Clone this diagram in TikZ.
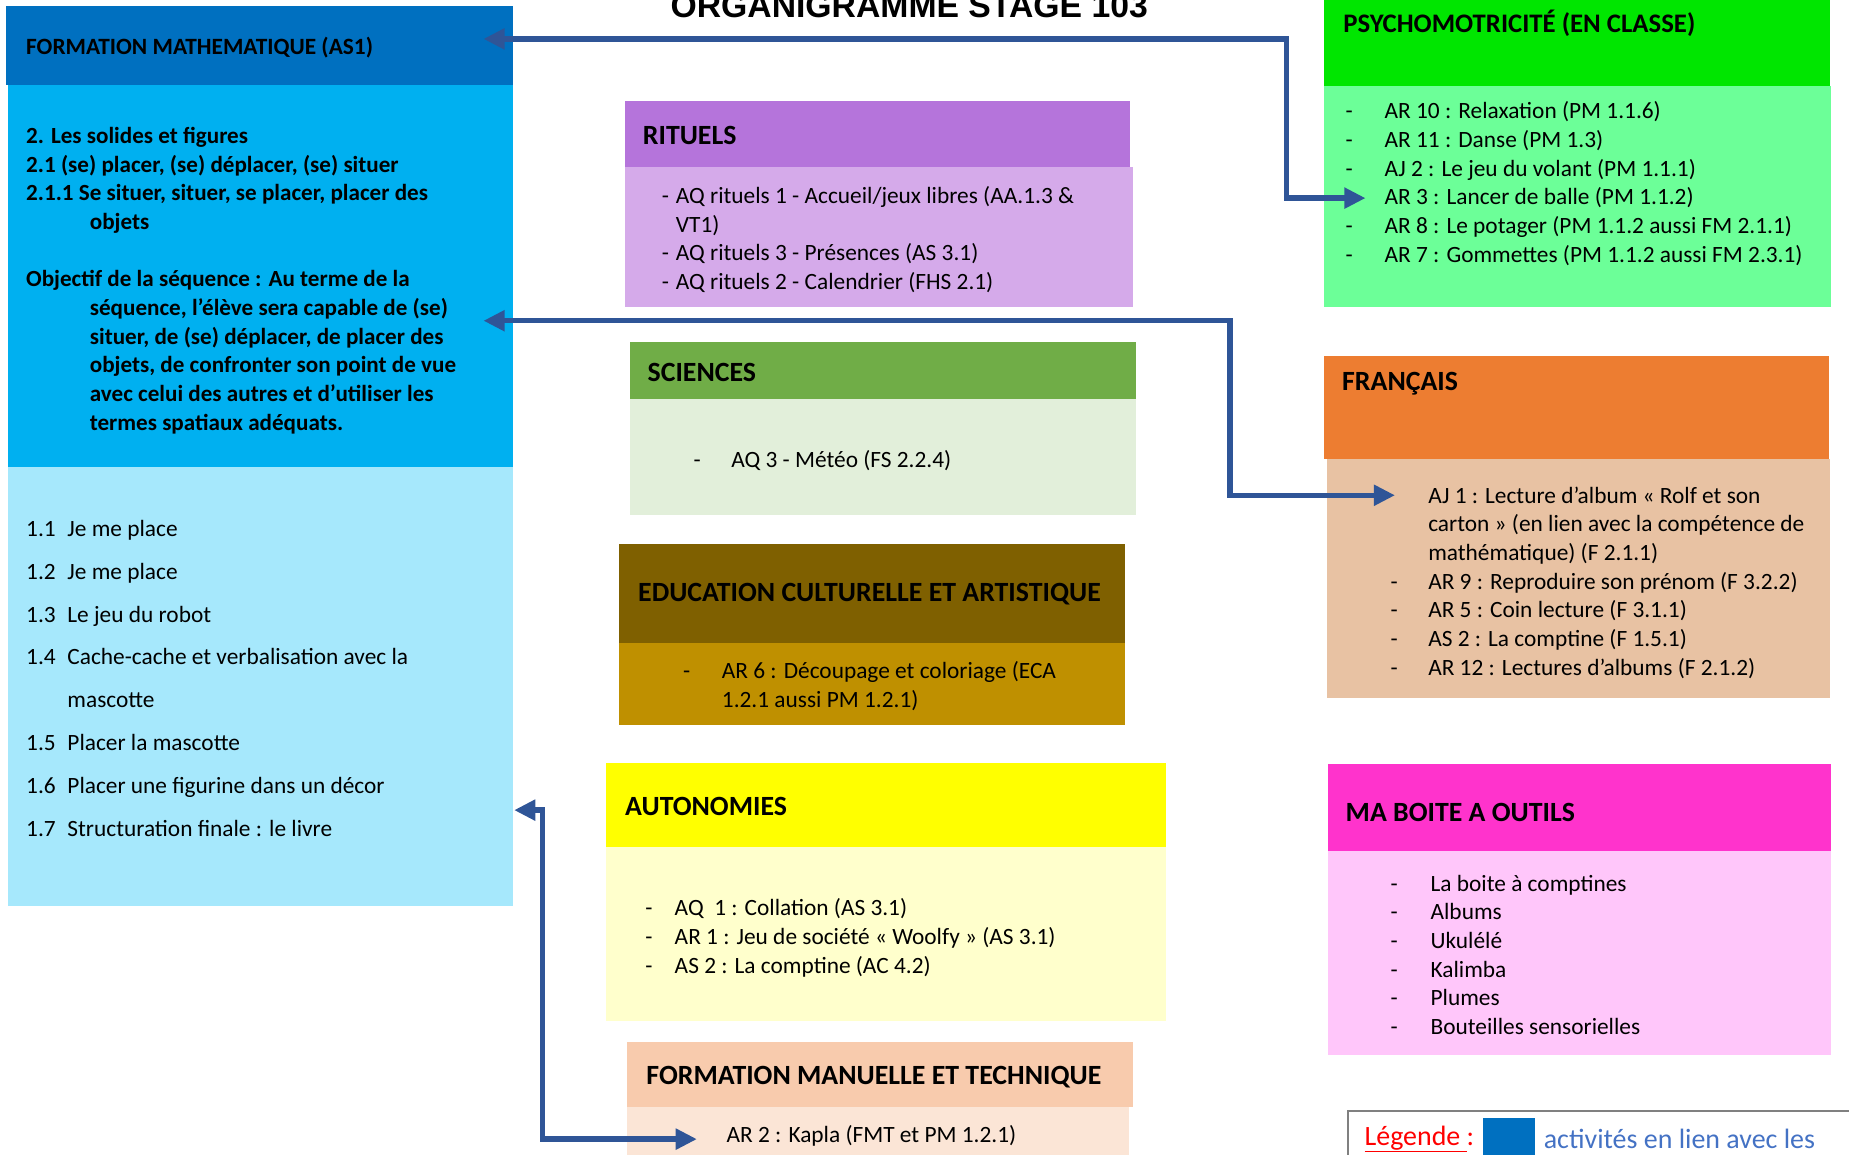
\documentclass[tikz,border=0pt]{standalone}
\usepackage{fontspec}
\setmainfont{Carlito}
\newfontfamily\titrefont{Liberation Sans}
\usetikzlibrary{arrows.meta,calc}
\definecolor{mathH}{HTML}{0070C0}
\definecolor{mathM}{HTML}{00B0F0}
\definecolor{mathL}{HTML}{A6E8FC}
\definecolor{ritH}{HTML}{B574DB}
\definecolor{ritB}{HTML}{D5AAEA}
\definecolor{sciH}{HTML}{70AD47}
\definecolor{sciB}{HTML}{E2EFDA}
\definecolor{ecaH}{HTML}{7F6000}
\definecolor{ecaB}{HTML}{BF9000}
\definecolor{autH}{HTML}{FFFF00}
\definecolor{autB}{HTML}{FFFFCC}
\definecolor{fmtH}{HTML}{F8CBAD}
\definecolor{fmtB}{HTML}{FBE5D6}
\definecolor{psyH}{HTML}{00E600}
\definecolor{psyB}{HTML}{6CFF98}
\definecolor{frH}{HTML}{ED7D31}
\definecolor{frB}{HTML}{E8C2A3}
\definecolor{outH}{HTML}{FF33CC}
\definecolor{outB}{HTML}{FFC6FA}
\definecolor{lienbleu}{HTML}{2F5597}
\definecolor{legbleu}{HTML}{4472C4}
\newcommand{\puce}[2]{\makebox[#1pt][l]{#2}}

\begin{document}
\begin{tikzpicture}[x=1pt,y=-1pt,
   bx/.style={anchor=north west,inner sep=0pt,outer sep=0pt},
   ttl/.style={anchor=west,inner sep=0pt,font=\bfseries\fontsize{23.6}{28}\selectfont},
   lst/.style={anchor=north west,inner sep=0pt,align=left,font=\fontsize{19.8}{24.3}\selectfont},
   link/.style={draw=lienbleu,line width=4.5pt,{Triangle[length=18pt,width=17pt]}-{Triangle[length=18pt,width=17pt]}}]
  \useasboundingbox (0,0) rectangle (1568,979);
  \node[anchor=base,inner sep=0pt,font=\titrefont\bfseries\fontsize{28.6}{30}\selectfont] (titre) at (771,15) {ORGANIGRAMME STAGE 103};

  \node[bx,fill=mathH,minimum width=430pt,minimum height=67pt] (mathH) at (5,5) {};
  \node[bx,fill=mathM,minimum width=428pt,minimum height=324pt] (mathM) at (7,72) {};
  \node[bx,fill=mathL,minimum width=428pt,minimum height=372pt] (mathL) at (7,396) {};
  \node[ttl,font=\bfseries\fontsize{19.8}{24}\selectfont] (mathT) at (22,40) {FORMATION MATHEMATIQUE (AS1)};
  \node[lst,font=\bfseries\fontsize{19.6}{24.3}\selectfont] (mathC) at (22,104.5) {\strut 2. Les solides et figures\\
    2.1 (se) placer, (se) déplacer, (se) situer\\
    2.1.1 Se situer, situer, se placer, placer des\\
    \hspace*{54pt}objets\\[24.3pt]
    Objectif de la séquence : Au terme de la\\
    \hspace*{54pt}séquence, l’élève sera capable de (se)\\
    \hspace*{54pt}situer, de (se) déplacer, de placer des\\
    \hspace*{54pt}objets, de confronter son point de vue\\
    \hspace*{54pt}avec celui des autres et d’utiliser les\\
    \hspace*{54pt}termes spatiaux adéquats.};
  \node[lst,font=\fontsize{19.8}{36.4}\selectfont] (mathS) at (22,429) {\strut\puce{35}{1.1}Je me place\\
    \puce{35}{1.2}Je me place\\
    \puce{35}{1.3}Le jeu du robot\\
    \puce{35}{1.4}Cache-cache et verbalisation avec la\\
    \hspace*{35pt}mascotte\\
    \puce{35}{1.5}Placer la mascotte\\
    \puce{35}{1.6}Placer une figurine dans un décor\\
    \puce{35}{1.7}Structuration finale : le livre};

  \node[bx,fill=ritH,minimum width=428pt,minimum height=56pt] (ritH) at (530,86) {};
  \node[bx,fill=ritB,minimum width=431pt,minimum height=118pt] (ritB) at (530,142) {};
  \node[ttl] (ritT) at (545,115) {RITUELS};
  \node[lst] (ritC) at (561,155.5) {\strut\puce{12}{-}AQ rituels 1 - Accueil/jeux libres (AA.1.3 \&\\
    \hspace*{12pt}VT1)\\
    \puce{12}{-}AQ rituels 3 - Présences (AS 3.1)\\
    \puce{12}{-}AQ rituels 2 - Calendrier (FHS 2.1)};

  \node[bx,fill=sciH,minimum width=429pt,minimum height=48pt] (sciH) at (534,290) {};
  \node[bx,fill=sciB,minimum width=429pt,minimum height=99pt] (sciB) at (534,338) {};
  \node[ttl] (sciT) at (549,316) {SCIENCES};
  \node[lst] (sciC) at (588,379.5) {\strut\puce{32}{-}AQ 3 - Météo (FS 2.2.4)};

  \node[bx,fill=ecaH,minimum width=429pt,minimum height=84pt] (ecaH) at (525,461) {};
  \node[bx,fill=ecaB,minimum width=429pt,minimum height=70pt] (ecaB) at (525,545) {};
  \node[ttl] (ecaT) at (541,504) {EDUCATION CULTURELLE ET ARTISTIQUE};
  \node[lst] (ecaC) at (579,558.5) {\strut\puce{33}{-}AR 6 : Découpage et coloriage (ECA\\
    \hspace*{33pt}1.2.1 aussi PM 1.2.1)};

  \node[bx,fill=autH,minimum width=475pt,minimum height=71pt] (autH) at (514,647) {};
  \node[bx,fill=autB,minimum width=475pt,minimum height=148pt] (autB) at (514,718) {};
  \node[ttl] (autT) at (530,684) {AUTONOMIES};
  \node[lst] (autC) at (547,759.5) {\strut\puce{25}{-}AQ\ \ 1 : Collation (AS 3.1)\\
    \puce{25}{-}AR 1 : Jeu de société « Woolfy » (AS 3.1)\\
    \puce{25}{-}AS 2 : La comptine (AC 4.2)};

  \node[bx,fill=fmtH,minimum width=429pt,minimum height=55pt] (fmtH) at (532,884) {};
  \node[bx,fill=fmtB,minimum width=425pt,minimum height=60pt] (fmtB) at (532,939) {};
  \node[ttl] (fmtT) at (548,913) {FORMATION MANUELLE ET TECHNIQUE};
  \node[lst] (fmtC) at (616,951.5) {\strut AR 2 : Kapla (FMT et PM 1.2.1)};

  \node[bx,fill=psyH,minimum width=429pt,minimum height=78pt] (psyH) at (1123,-5) {};
  \node[bx,fill=psyB,minimum width=430pt,minimum height=187pt] (psyB) at (1123,73) {};
  \node[ttl,font=\bfseries\fontsize{22.7}{27}\selectfont] (psyT) at (1139,20) {PSYCHOMOTRICITÉ (EN CLASSE)};
  \node[lst] (psyC) at (1141,83.5) {\strut\puce{33}{-}AR 10 : Relaxation (PM 1.1.6)\\
    \puce{33}{-}AR 11 : Danse (PM 1.3)\\
    \puce{33}{-}AJ 2 : Le jeu du volant (PM 1.1.1)\\
    \hspace*{33pt}AR 3 : Lancer de balle (PM 1.1.2)\\
    \puce{33}{-}AR 8 : Le potager (PM 1.1.2 aussi FM 2.1.1)\\
    \puce{33}{-}AR 7 : Gommettes (PM 1.1.2 aussi FM 2.3.1)};

  \node[bx,fill=frH,minimum width=428pt,minimum height=87pt] (frH) at (1123,302) {};
  \node[bx,fill=frB,minimum width=427pt,minimum height=203pt] (frB) at (1125,389) {};
  \node[ttl] (frT) at (1138,325) {FRANÇAIS};
  \node[lst] (frC) at (1179,409.5) {\strut\hspace*{32pt}AJ 1 : Lecture d’album « Rolf et son\\
    \hspace*{32pt}carton » (en lien avec la compétence de\\
    \hspace*{32pt}mathématique) (F 2.1.1)\\
    \puce{32}{-}AR 9 : Reproduire son prénom (F 3.2.2)\\
    \puce{32}{-}AR 5 : Coin lecture (F 3.1.1)\\
    \puce{32}{-}AS 2 : La comptine (F 1.5.1)\\
    \puce{32}{-}AR 12 : Lectures d’albums (F 2.1.2)};

  \node[bx,fill=outH,minimum width=427pt,minimum height=74pt] (outH) at (1126,648) {};
  \node[bx,fill=outB,minimum width=427pt,minimum height=173pt] (outB) at (1126,722) {};
  \node[ttl] (outT) at (1141,689) {MA BOITE A OUTILS};
  \node[lst] (outC) at (1179,738.5) {\strut\puce{34}{-}La boite à comptines\\
    \puce{34}{-}Albums\\
    \puce{34}{-}Ukulélé\\
    \puce{34}{-}Kalimba\\
    \puce{34}{-}Plumes\\
    \puce{34}{-}Bouteilles sensorielles};

  \node[bx,draw=gray,line width=1.5pt,minimum width=440pt,minimum height=60pt] (leg) at (1143,942) {};
  \node[anchor=west,inner sep=0pt,text=red,font=\fontsize{23.7}{28}\selectfont] (legT) at (1157,966) {\underline{Légende\ }:};
  \node[bx,fill=mathH,minimum width=44pt,minimum height=40pt] (legC) at (1258,948) {};
  \node[anchor=west,inner sep=0pt,text=legbleu,font=\fontsize{23.7}{28}\selectfont] (legD) at (1309,966) {activités en lien avec les};

  \coordinate (mA) at (410,33);
  \coordinate (kA) at (1091,168);
  \coordinate (pA) at (1158,168);
  \coordinate (mB) at (410,272);
  \coordinate (kB) at (1043,420);
  \coordinate (fB) at (1183,420);
  \coordinate (mC) at (436,687);
  \coordinate (kC) at (460,966);
  \coordinate (fC) at (591,966);
  \draw[link] (mA) -| (kA) -- (pA);
  \draw[link] (mB) -| (kB) -- (fB);
  \draw[link] (mC) -| (kC) -- (fC);
\end{tikzpicture}
\end{document}
